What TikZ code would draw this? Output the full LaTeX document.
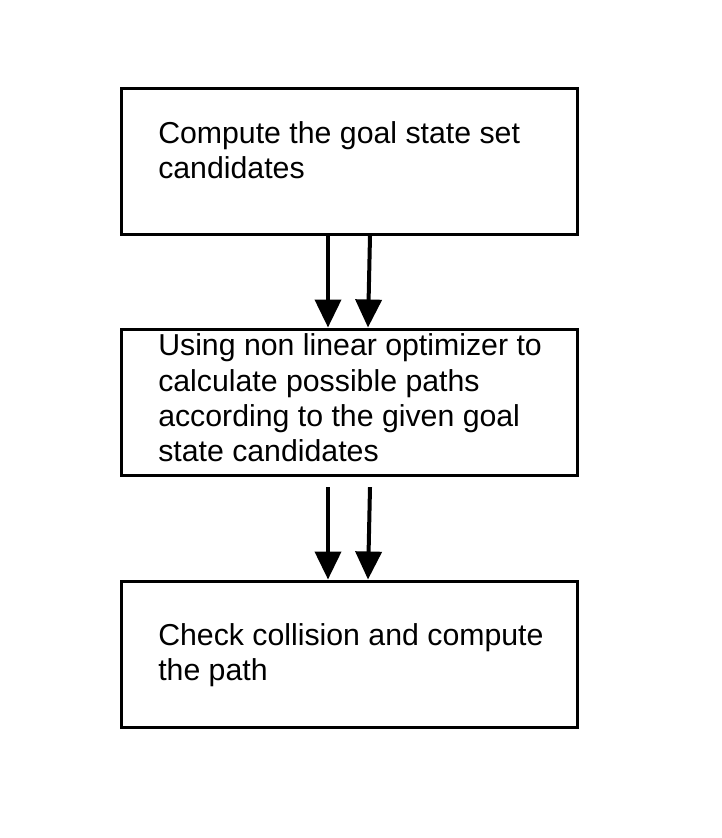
\documentclass[tikz,border=0pt]{standalone}
\usepackage{fontspec}
\setmainfont{Liberation Sans}
\usetikzlibrary{arrows.meta,positioning,calc}

\begin{document}
\begin{tikzpicture}[
  x=0.75pt,y=-0.75pt,
  stage/.style={draw,line width=2.25pt,minimum width=342pt,minimum height=109.5pt,inner sep=0pt},
  txt/.style={anchor=west,align=left,inner sep=0pt,font=\fontsize{22.7}{26.5}\selectfont},
  arr/.style={-{Triangle[length=21pt,width=19.5pt]},line width=3pt}
]
\useasboundingbox (0,0) rectangle (721,838);

% -------------------------
% Stages
% -------------------------
\node[stage] (S1) at (349,161.5) {};
\node[stage] (S2) at (349,402) {};
\node[stage] (S3) at (349,654) {};

\node[txt] (T1) at (158,150) {Compute the goal state set\\candidates};
\node[txt] (T2) at (158,398) {Using non linear optimizer to\\calculate possible paths\\according to the given goal\\state candidates};
\node[txt] (T3) at (158,655) {Check collision and compute\\the path};

% -------------------------
% Connectors (two per step)
% -------------------------
\draw[arr] ([xshift=-15.75pt]S1.south) -- ([xshift=-15.75pt]S2.north);
\draw[arr] ([xshift=15.75pt]S1.south) -- ([xshift=14.25pt]S2.north);

\draw[arr] ([xshift=-15.75pt,yshift=-8pt]S2.south) -- ([xshift=-15.75pt]S3.north);
\draw[arr] ([xshift=15.75pt,yshift=-8pt]S2.south) -- ([xshift=14.25pt]S3.north);

\end{tikzpicture}
\end{document}
